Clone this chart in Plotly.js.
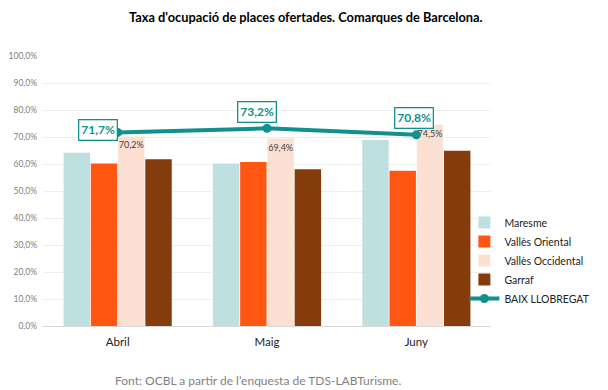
<!DOCTYPE html>
<html><head><meta charset="utf-8">
<script src="https://cdn.plot.ly/plotly-3.0.1.min.js"></script>
<style>html,body{margin:0;padding:0;background:#fff}#chart{width:608px;height:390px}</style>
</head><body><div id="chart"></div>
<script>
const months = ['Abril', 'Maig', 'Juny'];
const maresme = [64.2, 60.2, 68.9];
const vallesOriental = [60.2, 60.7, 57.5];
const vallesOccidental = [70.2, 69.4, 74.5];
const garraf = [61.8, 58.1, 64.9];
const baixLlobregat = [71.7, 73.2, 70.8];
const yTicks = [0,10,20,30,40,50,60,70,80,90,100];

const fmt = v => v.toFixed(1).replace('.', ',') + '%';
const FONT = 'Lato, "Open Sans", sans-serif';

const traces = [
  {type:'bar', name:'Maresme', x:months, y:maresme, marker:{color:'#bfe0e0'}},
  {type:'bar', name:'Vallès Oriental', x:months, y:vallesOriental, marker:{color:'#ff5712'}},
  {type:'bar', name:'Vallès Occidental', x:months, y:vallesOccidental, marker:{color:'#fbe0d3'},
   text: vallesOccidental.map(fmt), textposition:'inside', insidetextanchor:'end', constraintext:'none',
   textfont:{size:9, color:'#404040', family:FONT}, textangle:0},
  {type:'bar', name:'Garraf', x:months, y:garraf, marker:{color:'#843c0c'}},
  {type:'scatter', mode:'lines+markers', name:'BAIX LLOBREGAT', x:months, y:baixLlobregat,
   line:{color:'#13908e', width:4}, marker:{color:'#13908e', size:9}}
];

const lblPlace = [
  {xanchor:'right', yanchor:'middle', xshift:0, yshift:2},
  {xanchor:'center', yanchor:'bottom', xshift:-10, yshift:5},
  {xanchor:'center', yanchor:'bottom', xshift:-2, yshift:6}
];
const annotations = baixLlobregat.map((v,i) => Object.assign({
  x: months[i], y: v, xref:'x', yref:'y', text: '<b>' + fmt(v) + '</b>', showarrow:false,
  font:{size:12, color:'#13908e', family:FONT}, bgcolor:'#fff', bordercolor:'#13908e', borderwidth:1.3, borderpad:2
}, lblPlace[i]));
annotations.push({xref:'paper', yref:'paper', x:0.48, y:-0.2, yanchor:'middle', showarrow:false,
  text:'Font: OCBL a partir de l’enquesta de TDS-LABTurisme.', font:{size:12, color:'#7f7f7f', family:FONT}});

const layout = {
  width:608, height:390,
  margin:{l:43, r:111, t:56, b:64},
  paper_bgcolor:'#fff', plot_bgcolor:'#fff',
  separators:',.',
  font:{family:FONT},
  title:{text:'<b>Taxa d\'ocupació de places ofertades. Comarques de Barcelona.</b>', x:0.503, xanchor:'center', y:0.955, yanchor:'middle', font:{size:12.8, color:'#000', family:FONT}},
  barmode:'group', bargap:0.27, bargroupgap:0.03,
  xaxis:{type:'category', tickfont:{size:11.5, color:'#222'}, showline:true, linecolor:'#d9d9d9', linewidth:1, ticks:'', showgrid:false, zeroline:false, ticklabelstandoff:5},
  yaxis:{range:[0,100], tickvals:yTicks, ticktext:yTicks.map(fmt), tickfont:{size:8.5, color:'#7f7f7f'},
         gridcolor:'#eeeeee', gridwidth:1, zeroline:false, showline:false, ticks:'', ticklen:0, ticklabelstandoff:5},
  legend:{x:1.233, xanchor:'right', y:0.437, yanchor:'top', font:{size:10.5, color:'#222', family:FONT},
          tracegroupgap:0, itemwidth:30, bgcolor:'rgba(0,0,0,0)'},
  showlegend:true,
  annotations: annotations
};

Plotly.newPlot('chart', traces, layout, {displayModeBar:false, staticPlot:true});
</script></body></html>
